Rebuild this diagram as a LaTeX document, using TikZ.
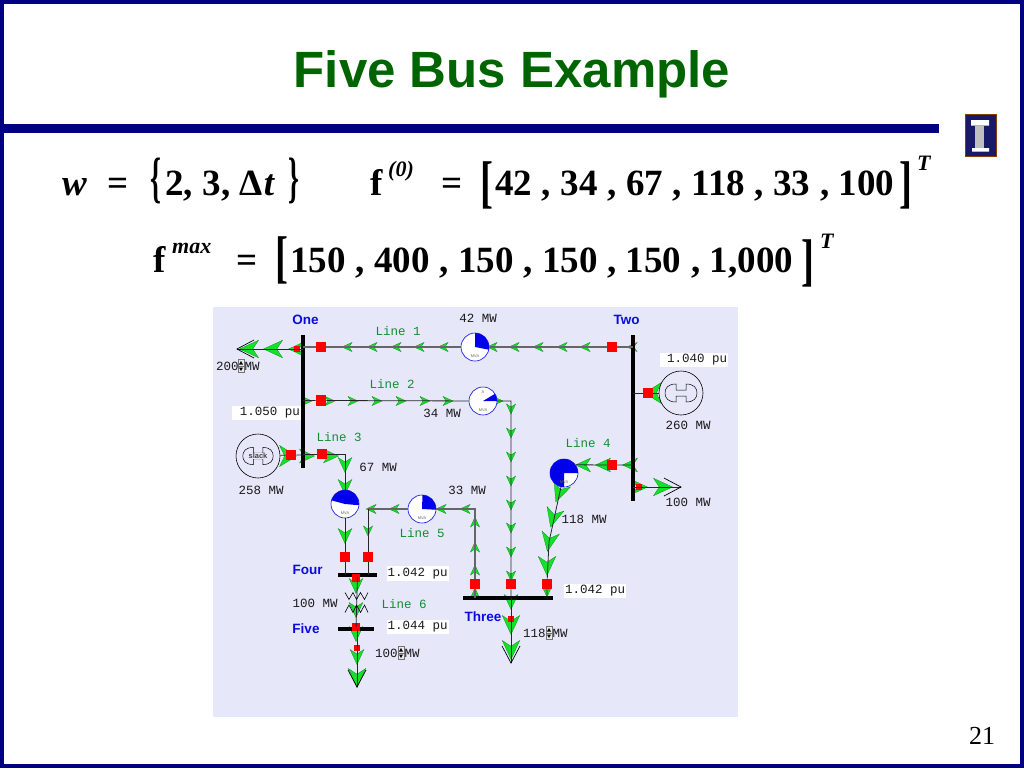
\documentclass[tikz,border=0pt]{standalone}
\usepackage{graphicx}
\usepackage{fontspec}
\setmainfont{Liberation Serif}
\setsansfont{Liberation Sans}
\newfontfamily\labelfont{Liberation Mono}
\usepackage{xcolor}
\usepackage{tikz}
\usetikzlibrary{shapes.geometric}

\definecolor{slidenavy}{RGB}{0,0,128}
\definecolor{titlegreen}{RGB}{0,100,0}
\definecolor{panelblue}{RGB}{230,232,250}
\definecolor{flowgreen}{RGB}{20,225,40}
\definecolor{flowedge}{RGB}{10,130,30}
\definecolor{linegreen}{RGB}{20,140,50}
\definecolor{busblue}{RGB}{10,10,225}
\definecolor{pieblue}{RGB}{0,0,235}

\tikzset{
    flow/.pic = {\filldraw[draw = flowedge, fill = flowgreen, line width = 0.25]
        (5, 0) -- (-5, -4.6) -- (-2, 0) -- (-5, 4.6) -- cycle;},
    chevron/.pic = {\draw[line width = 0.7] (-17, -9) -- (0, 0) -- (-17, 9);},
    spinner/.pic = {\draw[black!55, line width = 0.6, fill = black!8] (-3, -6.5) rectangle (3, 6.5) (-3, 0) -- (3, 0);
        \fill (0, -5) -- (-2, -1.5) -- (2, -1.5) -- cycle (0, 5) -- (-2, 1.5) -- (2, 1.5) -- cycle;},
    machine/.pic = {\draw[line width = 0.5] (-5, -3) -- (5, -3) -- (5, -9)
        .. controls (13, -9) and (16, -5) .. (16, 0) .. controls (16, 5) and (13, 9) .. (5, 9)
        -- (5, 3) -- (-5, 3) -- (-5, 9) .. controls (-13, 9) and (-16, 5) .. (-16, 0)
        .. controls (-16, -5) and (-13, -9) .. (-5, -9) -- cycle;},
    goleft/.style = {rotate = 180},
    goup/.style = {rotate = 90},
    godown/.style = {rotate = -90},
    big/.style = {scale = 1.9},
    mid/.style = {scale = 1.5},
    gen/.style = {xscale = 1.7, yscale = 2.3},
    busbar/.style = {fill = black, inner sep = 0, minimum width = 3.4, minimum height = 3.4},
    breaker/.style = {fill = red, inner sep = 0, minimum size = 10.5},
    smallbreaker/.style = {fill = red, inner sep = 0, minimum size = 6.5},
    piebox/.style = {circle, draw = busblue, fill = white, line width = 0.6, inner sep = 0, minimum size = 28},
    genbox/.style = {circle, draw = black, line width = 0.6, inner sep = 0, minimum size = 44},
    wire/.style = {draw = black!85, line width = 0.8},
    greywire/.style = {draw = black!60, line width = 1.2},
    lab/.style = {font = \labelfont\fontsize{12.5}{14}\selectfont, inner sep = 0, text = black!90},
    whitelab/.style = {lab, fill = white, inner xsep = 1, inner ysep = 2},
    linelab/.style = {lab, text = linegreen},
    buslab/.style = {font = \sffamily\bfseries\fontsize{13.5}{15}\selectfont, inner sep = 0, text = busblue},
    eq/.style = {font = \bfseries\fontsize{37}{40}\selectfont, inner sep = 0, anchor = base west},
    eqsup/.style = {font = \bfseries\itshape\fontsize{22}{24}\selectfont, inner sep = 0, anchor = base west}
}

\newcommand{\cm}{\hspace{9.6pt},\hspace{9.6pt}}
\newcommand{\piechart}[5]{
    \node[piebox] (#1) at (#2, #3) {};
    \fill[pieblue] (#1.center) -- ++(#4:14pt) arc[start angle = #4, end angle = #5, radius = 14pt] -- cycle;
    \node[font = \sffamily\fontsize{4}{4}\selectfont, text = black!60, inner sep = 0] (#1text) at (#2, #3 + 9.5) {MVA};
}

\begin{document}
\begin{tikzpicture}[x = 1pt, y = -1pt]
    \useasboundingbox (0, 0) rectangle (1024, 768);

    % slide
    \draw[slidenavy, line width = 4] (2, 2) rectangle (1022, 766);
    \fill[slidenavy] (0, 124) rectangle (939, 132.5);
    \node[font = \sffamily\bfseries\fontsize{51}{54}\selectfont, text = titlegreen, inner sep = 0] (title) at (512, 74) {Five Bus Example};
    \node[font = \fontsize{26}{28}\selectfont, inner sep = 0] (pagenum) at (982, 736) {21};

    % logo
    \filldraw[draw = black!50!orange, fill = slidenavy!70!black!90!white, line width = 1] (965.5, 114) rectangle (996.5, 156);
    \fill[white] (971, 120) rectangle (989, 125.5) (972, 148) rectangle (989, 151.5);
    \fill[black!25] (975, 125.5) rectangle (984, 148);

    % equations
    \node[eq, font = \bfseries\itshape\fontsize{37}{40}\selectfont] (wsym) at (62, 195) {w};
    \node[eq] (eqa) at (107, 195) {=};
    \node[font = \bfseries\fontsize{37}{40}\selectfont, inner sep = 0] (bra) at (156, 181) {\scalebox{0.75}[1.5]{\{}};
    \node[eq] (wset) at (165, 195) {2,\hspace{10pt}3,\hspace{9pt}Δ\hspace{1pt}\textit{t}};
    \node[font = \bfseries\fontsize{37}{40}\selectfont, inner sep = 0] (ket) at (294, 181) {\scalebox{0.75}[1.5]{\}}};
    \node[eq] (fa) at (370, 195) {f};
    \node[eqsup] (fasup) at (388, 176) {(0)};
    \node[eq] (eqb) at (441, 195) {=};
    \node[font = \bfseries\fontsize{37}{40}\selectfont, inner sep = 0] (lbra) at (487, 185) {\scalebox{1.05}[1.55]{[}};
    \node[eq] (flows) at (495, 195) {42\cm 34\cm 67\cm 118\cm 33\cm 100};
    \node[font = \bfseries\fontsize{37}{40}\selectfont, inner sep = 0] (rbra) at (906, 185) {\scalebox{1.05}[1.55]{]}};
    \node[eqsup] (ta) at (917, 170) {T};

    \node[eq] (fb) at (153, 272) {f};
    \node[eqsup] (fbsup) at (172, 253) {max};
    \node[eq] (eqc) at (236, 272) {=};
    \node[font = \bfseries\fontsize{37}{40}\selectfont, inner sep = 0] (lbrb) at (282, 260) {\scalebox{1.05}[1.55]{[}};
    \node[eq] (limits) at (290, 272) {150\cm 400\cm 150\cm 150\cm 150\cm 1,000};
    \node[font = \bfseries\fontsize{37}{40}\selectfont, inner sep = 0] (rbrb) at (808, 263) {\scalebox{1.05}[1.55]{]}};
    \node[eqsup] (tb) at (820, 248) {T};

    % panel
    \fill[panelblue] (213, 307) rectangle (738, 717);

    % flow arrows
    \path (347, 347) pic[goleft] {flow} (372, 347) pic[goleft] {flow} (396, 347) pic[goleft] {flow}
        (419, 347) pic[goleft] {flow} (443, 347) pic[goleft] {flow} (492, 347) pic[goleft] {flow}
        (514, 347) pic[goleft] {flow} (538, 347) pic[goleft] {flow} (562, 347) pic[goleft] {flow}
        (585, 347) pic[goleft] {flow} (632, 347) pic[goleft] {flow};
    \path (296, 349) pic[goleft, mid] {flow} (273, 349) pic[goleft, big] {flow} (249, 349) pic[goleft, big] {flow};
    \path (307, 401) pic {flow} (330, 401) pic {flow} (353, 401) pic {flow} (377, 401) pic {flow}
        (401, 401) pic {flow} (425, 401) pic {flow} (448, 401) pic {flow} (498, 401) pic {flow};
    \path (511, 409) pic[godown] {flow} (511, 433) pic[godown] {flow} (511, 457) pic[godown] {flow}
        (511, 481) pic[godown] {flow} (511, 505) pic[godown] {flow} (511, 528) pic[godown] {flow}
        (511, 552) pic[godown] {flow} (511, 576) pic[godown] {flow};
    \path (511, 602) pic[godown, mid] {flow} (511, 625) pic[godown, big] {flow} (511, 650) pic[godown, big] {flow};
    \path (288, 456) pic[gen] {flow} (307, 456) pic[mid] {flow} (331, 456) pic[mid] {flow};
    \path (345, 465) pic[godown, mid] {flow} (345, 487) pic[godown, mid] {flow} (345, 536) pic[godown, mid] {flow};
    \path (475, 522) pic[goup] {flow} (475, 547) pic[goup] {flow} (475, 570) pic[goup] {flow} (475, 593) pic[goup] {flow};
    \path (465, 509) pic[goleft] {flow} (441, 509) pic[goleft] {flow} (394, 509) pic[goleft] {flow}
        (371, 509) pic[goleft] {flow} (368, 531) pic[godown] {flow};
    \path (630, 465) pic[goleft, mid] {flow} (603, 465) pic[goleft, mid] {flow} (583, 465) pic[goleft, mid] {flow};
    \path (559, 493) pic[rotate = -110, big] {flow} (553, 518) pic[rotate = -105, big] {flow}
        (549, 542) pic[rotate = -100, big] {flow} (547, 566) pic[godown, big] {flow} (547, 592) pic[godown] {flow};
    \path (653, 393) pic[goleft, gen] {flow};
    \path (640, 487) pic[mid] {flow} (663, 487) pic[big] {flow};
    \path (356, 586) pic[godown, mid] {flow} (356, 610) pic[godown, mid] {flow} (356, 634) pic[godown, mid] {flow}
        (357, 657) pic[godown, mid] {flow} (357, 678) pic[godown, big] {flow};

    % buses
    \node[busbar, minimum height = 133] (busOne) at (303, 401.5) {};
    \node[busbar, minimum height = 166] (busTwo) at (633, 418) {};
    \node[busbar, minimum width = 90] (busThree) at (508, 598) {};
    \node[busbar, minimum width = 39] (busFour) at (357.5, 575) {};
    \node[busbar, minimum width = 36] (busFive) at (356, 629) {};

    % breakers
    \node[breaker] (brkOneA) at (321, 347) {};
    \node[breaker] (brkOneB) at (321, 400.5) {};
    \node[breaker] (brkOneC) at (322, 454) {};
    \node[breaker] (brkTwoA) at (612, 347) {};
    \node[breaker] (brkTwoB) at (612, 465) {};
    \node[breaker] (brkThreeA) at (475, 584) {};
    \node[breaker] (brkThreeB) at (511, 584) {};
    \node[breaker] (brkThreeC) at (547, 584) {};
    \node[breaker] (brkFourA) at (345, 557) {};
    \node[breaker] (brkFourB) at (368, 557) {};
    \node[breaker] (brkGenOne) at (291, 455) {};
    \node[breaker] (brkGenTwo) at (648, 393) {};
    \node[smallbreaker] (brkLoadOne) at (297, 349) {};
    \node[smallbreaker] (brkLoadTwo) at (639, 487) {};
    \node[smallbreaker] (brkLoadThree) at (511, 619) {};
    \node[smallbreaker] (brkLoadFive) at (357, 648) {};
    \node[breaker, minimum size = 8] (brkXfA) at (356, 578) {};
    \node[breaker, minimum size = 8] (brkXfB) at (356, 627) {};

    % pies
    \piechart{pieOne}{475}{347}{90}{-11}
    \piechart{pieTwo}{483}{401}{31}{0}
    \node[font = \sffamily\fontsize{4}{4}\selectfont, text = black!60, inner sep = 0] (pieTwoA) at (483, 392) {A};
    \piechart{pieThree}{345}{504}{165}{-5}
    \piechart{pieFour}{564}{473}{270}{0}
    \piechart{pieFive}{422}{509}{88}{-3}

    % generators
    \node[genbox] (genOne) at (258, 456) {};
    \path (258, 456) pic[scale = 0.95] {machine};
    \node[font = \sffamily\bfseries\fontsize{7.5}{8}\selectfont, fill = panelblue, inner sep = 0.5, text = black!75] (slacktext) at (258, 456) {slack};
    \node[genbox] (genTwo) at (681, 393) {};
    \path (681, 393) pic {machine};

    % free ends
    \coordinate (loadOne) at (237, 349);
    \coordinate (loadTwo) at (681, 487);
    \coordinate (loadThree) at (511, 663);
    \coordinate (loadFive) at (357, 687);
    \coordinate (cornerTwo) at (511, 401);
    \coordinate (cornerThree) at (345, 454);
    \coordinate (cornerFiveA) at (475, 509);
    \coordinate (cornerFiveB) at (368, 509);
    \coordinate (bendFour) at (549, 542);

    % lines
    \draw[greywire] (busOne.center |- brkOneA) -- (brkOneA) -- (pieOne) -- (brkTwoA) -- (busTwo.center |- brkTwoA);
    \draw[wire] (busOne.center |- brkOneB) -- (brkOneB) -- (pieTwo) -- (cornerTwo) -- (brkThreeB) -- (busThree.center -| brkThreeB);
    \draw[wire] (busOne.center |- brkOneC) -- (brkOneC) -- (cornerThree) -- (pieThree) -- (brkFourA) -- (busFour.center -| brkFourA);
    \draw[wire] (busTwo.center |- brkTwoB) -- (brkTwoB) -- (pieFour.35);
    \draw[wire] (pieFour) -- (bendFour) -- (brkThreeC) -- (busThree.center -| brkThreeC);
    \draw[greywire] (busThree.center -| brkThreeA) -- (brkThreeA) -- (cornerFiveA) -- (pieFive) -- (cornerFiveB);
    \draw[wire] (cornerFiveB) -- (brkFourB) -- (busFour.center -| brkFourB);
    \draw[wire] (genOne) -- (brkGenOne) -- (busOne.center |- brkGenOne);
    \draw[wire] (genTwo) -- (brkGenTwo) -- (busTwo.center |- brkGenTwo);
    \draw[wire] (busOne.center |- loadOne) -- (loadOne);
    \draw[wire] (busTwo.center |- loadTwo) -- (loadTwo);
    \draw[wire] (busThree.center -| loadThree) -- (loadThree);
    \draw[wire] (busFive.center -| loadFive) -- (loadFive);
    \draw[wire] (busFour) -- (busFive);

    % loads
    \path (loadOne) pic[rotate = 0, xscale = -1] {chevron};
    \path (loadTwo) pic {chevron};
    \path (loadThree) pic[godown] {chevron};
    \path (loadFive) pic[godown] {chevron};

    % transformer
    \draw[line width = 0.6] (345, 592.5) -- (349, 599.5) -- (353, 592.5) -- (356.5, 599.5) -- (360.5, 592.5) -- (364.5, 599.5) -- (368, 592.5);
    \draw[line width = 0.6] (345, 612.5) -- (349, 605) -- (353, 612.5) -- (356.5, 605) -- (360.5, 612.5) -- (364.5, 605) -- (368, 612.5);

    % labels
    \node[buslab] (nameOne) at (305.5, 320) {One};
    \node[buslab] (nameTwo) at (626.5, 320) {Two};
    \node[buslab] (nameThree) at (483, 617) {Three};
    \node[buslab] (nameFour) at (307.5, 570) {Four};
    \node[buslab] (nameFive) at (306, 629) {Five};
    \node[linelab] (lineOne) at (398, 331) {Line 1};
    \node[linelab] (lineTwo) at (392, 384) {Line 2};
    \node[linelab] (lineThree) at (339, 437.5) {Line 3};
    \node[linelab] (lineFour) at (588, 443) {Line 4};
    \node[linelab] (lineFive) at (422, 533) {Line 5};
    \node[linelab] (lineSix) at (404, 604) {Line 6};
    \node[lab] (mwOne) at (478, 318) {42 MW};
    \node[lab] (mwTwo) at (442, 413) {34 MW};
    \node[lab] (mwThree) at (378, 467) {67 MW};
    \node[lab] (mwFour) at (584, 519) {118 MW};
    \node[lab] (mwFive) at (467, 490) {33 MW};
    \node[lab] (mwSix) at (315, 603) {100 MW};
    \node[lab] (genOneMw) at (261, 490) {258 MW};
    \node[lab] (genTwoMw) at (688, 425) {260 MW};
    \node[lab] (loadTwoMw) at (688, 502) {100 MW};
    \node[whitelab] (puOne) at (266.5, 413) {\hspace*{7pt}1.050 pu};
    \node[whitelab] (puTwo) at (694, 360) {\hspace*{6pt}1.040 pu};
    \node[whitelab] (puFour) at (417.5, 573.5) {1.042 pu};
    \node[whitelab] (puThree) at (595, 591) {1.042 pu};
    \node[whitelab] (puFive) at (417.5, 627) {1.044 pu};

    % loads with spinner
    \node[lab, anchor = west] (loadOneA) at (216, 366) {200};
    \path (241, 366) pic {spinner};
    \node[lab, anchor = west] (loadOneB) at (244.5, 366) {MW};
    \node[lab, anchor = west] (loadThreeA) at (523, 633) {118};
    \path (549, 633) pic {spinner};
    \node[lab, anchor = west] (loadThreeB) at (552.5, 633) {MW};
    \node[lab, anchor = west] (loadFiveA) at (375, 653) {100};
    \path (401, 653) pic {spinner};
    \node[lab, anchor = west] (loadFiveB) at (404.5, 653) {MW};
\end{tikzpicture}
\end{document}
